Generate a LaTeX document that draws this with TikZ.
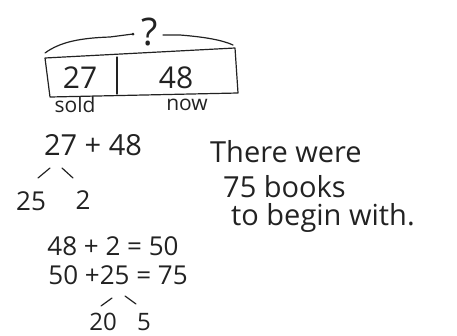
\documentclass[tikz,border=0pt]{standalone}
\usepackage{fontspec}
\setmainfont{Open Sans}
\definecolor{ink}{HTML}{222222}
\begin{document}
\begin{tikzpicture}[x=1pt,y=-1pt,
  hand/.style={draw=ink,line width=1.2pt,line cap=round,line join=round},
  big/.style={text=ink,inner sep=0pt,anchor=base,font=\fontsize{30}{34}\selectfont},
  ans/.style={text=ink,inner sep=0pt,anchor=base west,font=\fontsize{29}{32}\selectfont},
  mid/.style={text=ink,inner sep=0pt,anchor=base,font=\fontsize{26}{30}\selectfont},
  small/.style={text=ink,inner sep=0pt,anchor=base,font=\fontsize{21}{24}\selectfont}]
\useasboundingbox (0,0) rectangle (457,335);
% bar model
\coordinate (tl) at (45,58);
\coordinate (tr) at (235,48);
\coordinate (br) at (238,93);
\coordinate (bl) at (50,97);
\draw[hand] (tl) -- (tr) -- (br) -- (bl) -- (tl);
\coordinate (dt) at (117,57);
\coordinate (db) at (117,94);
\draw[hand] (dt) -- (db);
% brace
\coordinate (bL) at (45,53);
\coordinate (bLm) at (133,34);
\coordinate (bRm) at (163,35);
\coordinate (bR) at (233,45);
\draw[hand] (bL) .. controls (60,42) and (80,38) .. (110,37) -- (bLm);
\draw[hand] (bRm) -- (180,35) .. controls (205,37) and (222,40) .. (bR);
\fill[ink] (bLm) circle (1.5);
\node[text=ink,inner sep=0pt,anchor=base,font=\fontsize{38}{40}\selectfont] (q) at (150,45) {?};
% labels in bar
\node[big] (n27) at (80,88) {27};
\node[big] (n48) at (176,88) {48};
\node[small] (sold) at (75,112) {sold};
\node[small] (now) at (187,110) {now};
% first computation
\node[mid,font=\fontsize{29}{32}\selectfont] (sum) at (93,155) {27 + 48};
\node[mid] (n25) at (31,210) {25};
\node[mid] (n2) at (83,209) {2};
\coordinate (s1a) at (50,168);
\coordinate (s1b) at (38,178);
\coordinate (s2a) at (62,168);
\coordinate (s2b) at (73,178);
\draw[hand] (s1a) -- (s1b);
\draw[hand] (s2a) -- (s2b);
% second computation
\node[mid] (e1) at (113,255) {48 + 2 = 50};
\node[mid] (e2) at (118,284) {50 +25 = 75};
\coordinate (t1a) at (112,298);
\coordinate (t1b) at (101,306);
\coordinate (t2a) at (125,296);
\coordinate (t2b) at (136,304);
\draw[hand] (t1a) -- (t1b);
\draw[hand] (t2a) -- (t2b);
\node[mid,font=\fontsize{24}{28}\selectfont] (n20) at (103,330) {20};
\node[mid,font=\fontsize{24}{28}\selectfont] (n5) at (144,330) {5};
% answer
\node[ans] (a1) at (210,162) {There were};
\node[ans] (a2) at (223,197) {75 books};
\node[ans] (a3) at (231,225) {to begin with.};
\end{tikzpicture}
\end{document}
